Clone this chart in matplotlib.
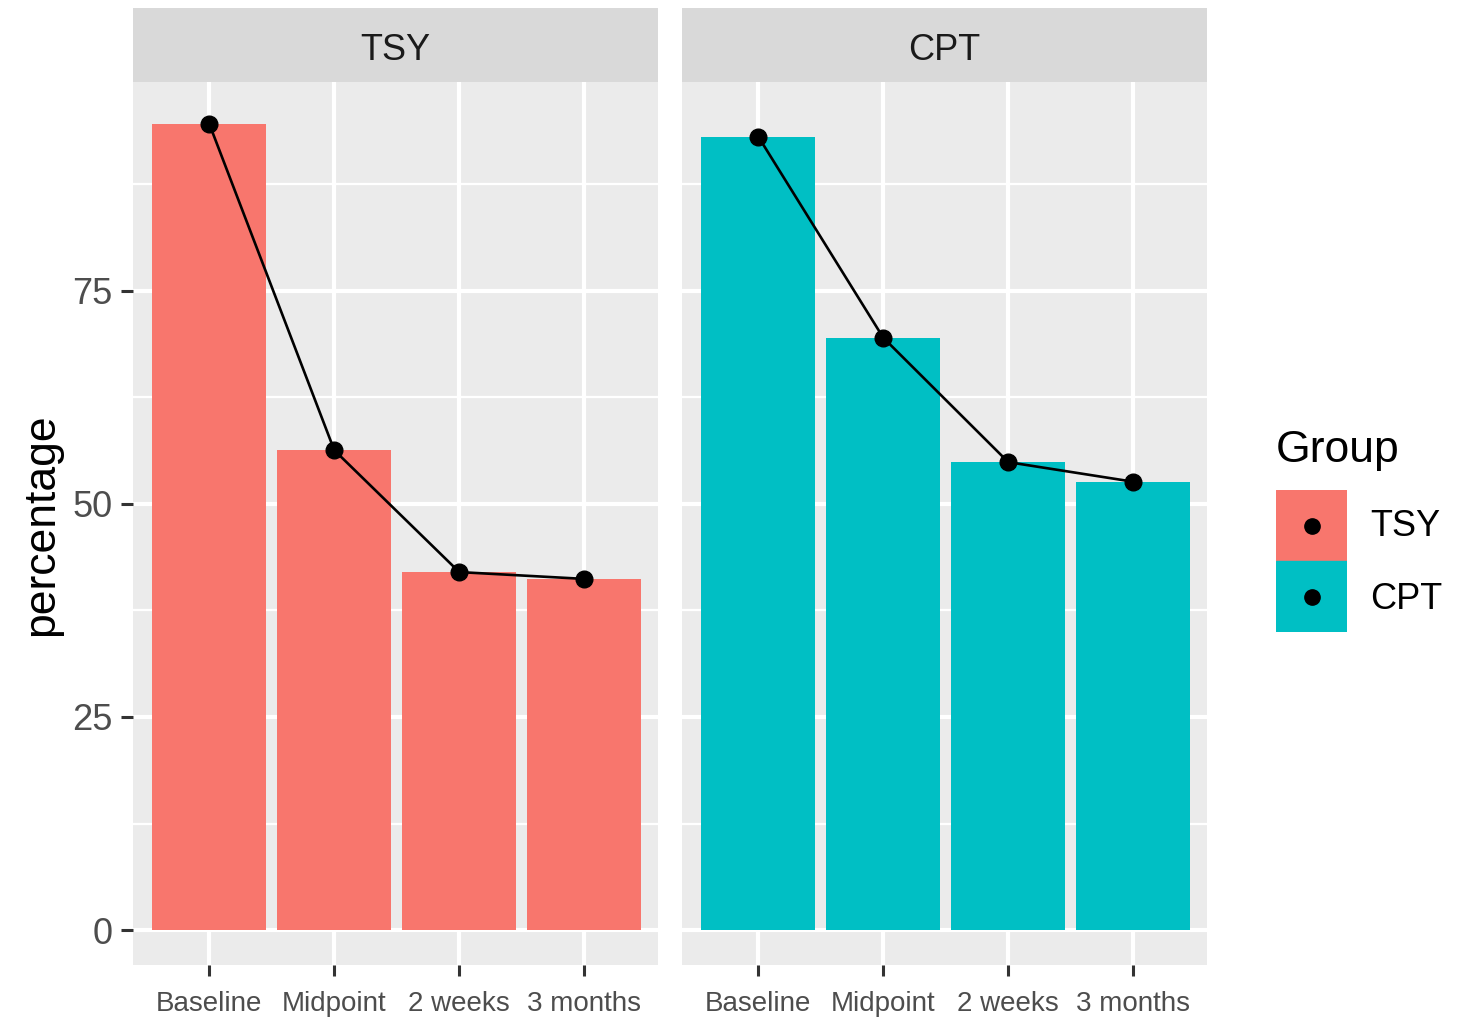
import matplotlib
matplotlib.use("Agg")
import matplotlib.pyplot as plt
from matplotlib.patches import Rectangle

plt.rcParams["font.family"] = ["Liberation Sans", "DejaVu Sans"]

categories = ["Baseline", "Midpoint", "2 weeks", "3 months"]
groups = ["TSY", "CPT"]
tsy_values = [94.6, 56.3, 42.0, 41.2]
cpt_values = [93.1, 69.5, 54.9, 52.6]
colors = {"TSY": "#F8766D", "CPT": "#00BFC4"}
y_ticks = [0, 25, 50, 75]
y_minor = [12.5, 37.5, 62.5, 87.5]

W, H = 1463, 1021
fig = plt.figure(figsize=(W / 100, H / 100), dpi=100)


def fx(px):
    return px / W


def fy(py):
    return 1 - py / H


panel_left = [133, 682]
panel_w = 525
top, bottom = 82, 965

values = {"TSY": tsy_values, "CPT": cpt_values}
x = list(range(len(categories)))

for i, g in enumerate(groups):
    ax = fig.add_axes([fx(panel_left[i]), fy(bottom), fx(panel_w), (bottom - top) / H])
    ax.set_facecolor("#EBEBEB")
    ax.set_xlim(-0.61, 3.59)
    ax.set_ylim(-4.1, 99.5)
    for yv in y_minor:
        ax.axhline(yv, color="white", lw=1.6, zorder=0)
    for yv in y_ticks:
        ax.axhline(yv, color="white", lw=3.0, zorder=0)
    for xv in x:
        ax.axvline(xv, color="white", lw=3.0, zorder=0)
    ax.bar(x, values[g], width=0.91, color=colors[g], zorder=2)
    ax.plot(x, values[g], color="black", lw=1.9, marker="o", markersize=12, zorder=3)
    for s in ax.spines.values():
        s.set_visible(False)
    ax.set_xticks(x)
    ax.set_xticklabels(categories, fontsize=20, color="#4D4D4D")
    ax.tick_params(axis="x", length=8, width=2.2, color="#333333", pad=11)
    ax.set_yticks(y_ticks)
    if i == 0:
        ax.set_yticklabels([str(v) for v in y_ticks], fontsize=26, color="#4D4D4D")
        ax.tick_params(axis="y", length=9, width=2.2, color="#333333", pad=6)
    else:
        ax.tick_params(axis="y", length=0, labelleft=False)

    # facet strip
    sax = fig.add_axes([fx(panel_left[i]), fy(82), fx(panel_w), 74 / H])
    sax.set_facecolor("#D9D9D9")
    sax.set_xticks([])
    sax.set_yticks([])
    for s in sax.spines.values():
        s.set_visible(False)
    sax.text(0.5, 0.42, g, ha="center", va="center", fontsize=26, color="#1A1A1A",
             transform=sax.transAxes)

fig.text(fx(42), fy(525), "percentage", rotation=90, ha="center", va="center",
         fontsize=32, color="black")

# legend
fig.text(fx(1276), fy(450), "Group", ha="left", va="center", fontsize=32, color="black")
lax = fig.add_axes([fx(1276), fy(632), fx(71), 142 / H])
lax.set_xlim(0, 1)
lax.set_ylim(0, 2)
lax.axis("off")
for j, g in enumerate(groups):
    yb = 1 - j
    lax.add_patch(Rectangle((0, yb), 1, 1, color=colors[g]))
    lax.plot([0.5], [yb + 0.5], "o", color="black", markersize=11)
    fig.text(fx(1370), fy(527 + 72 * j), g, ha="left", va="center", fontsize=26,
             color="black")

fig.savefig("out.png", dpi=100, facecolor="white")
